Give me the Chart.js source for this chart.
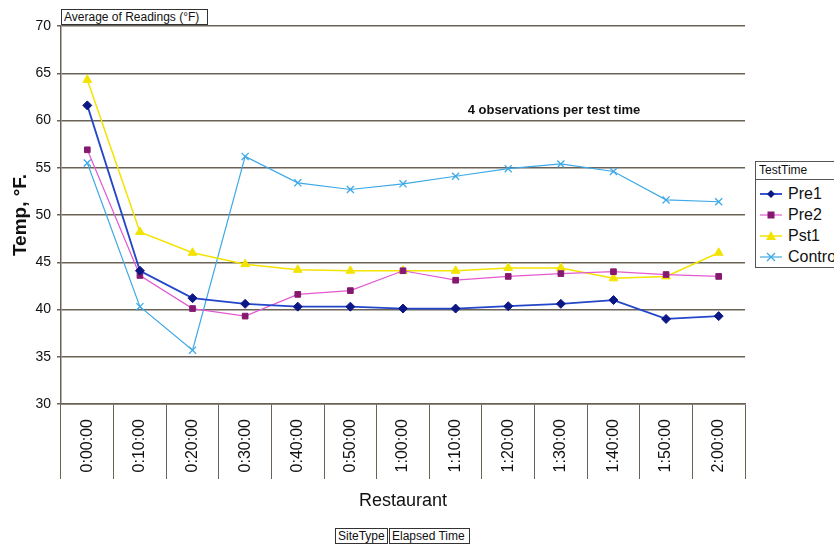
<!DOCTYPE html>
<html>
<head>
<meta charset="utf-8">
<script src="https://cdn.jsdelivr.net/npm/chart.js@4.4.1/dist/chart.umd.min.js"></script>
<style>
  html, body { margin: 0; padding: 0; background: #fff; overflow: hidden; }
  body { font-family: 'Liberation Sans', Arial, sans-serif; color: #111; }
  #wrap { position: relative; width: 834px; height: 546px; }
  .btn { position: absolute; border: 1px solid #333; background: #fff; font-size: 12px; line-height: 14px; padding: 0 2px; white-space: nowrap; }
  #note { position: absolute; font-weight: bold; font-size: 13px; white-space: nowrap; transform: translate(-50%, -50%); }
  #legend { position: absolute; left: 755px; top: 161px; width: 100px; height: 105px; border: 1px solid #555; background: #fff; }
  #legend .head { font-size: 12px; height: 17px; line-height: 17px; padding-left: 3px; border-bottom: 1px solid #555; margin-bottom: 3px; }
  #legend .row { height: 21px; display: flex; align-items: center; font-size: 16px; }
  #legend svg { margin: 0 6px 0 4px; }
</style>
</head>
<body>
<div id="wrap">
  <canvas id="chart" width="834" height="546"></canvas>
  <div class="btn" style="left:61px;top:9px;width:141px;">Average of Readings (°F)</div>
  <div id="note" style="left:554px;top:109px;">4 observations per test time</div>
  <div class="btn" style="left:335px;top:528px;">SiteType</div>
  <div class="btn" style="left:389px;top:528px;width:75px;">Elapsed Time</div>
  <div id="legend"><div class="head">TestTime</div></div>
</div>
<script>
// --- Data ---
const times = ['0:00:00', '0:10:00', '0:20:00', '0:30:00', '0:40:00', '0:50:00', '1:00:00',
               '1:10:00', '1:20:00', '1:30:00', '1:40:00', '1:50:00', '2:00:00'];
const pre1 = [61.6, 44.1, 41.2, 40.6, 40.3, 40.3, 40.1, 40.1, 40.35, 40.6, 41.0, 39.0, 39.3];
const pre2 = [56.9, 43.6, 40.1, 39.3, 41.6, 42.0, 44.1, 43.1, 43.5, 43.8, 44.0, 43.7, 43.5];
const pst1 = [64.3, 48.2, 46.0, 44.8, 44.2, 44.1, 44.1, 44.1, 44.4, 44.4, 43.3, 43.5, 46.0];
const control = [55.5, 40.3, 35.7, 56.2, 53.4, 52.7, 53.3, 54.1, 54.9, 55.4, 54.6, 51.6, 51.4];
const yTicks = [30, 35, 40, 45, 50, 55, 60, 65, 70];

const font = "'Liberation Sans', Arial, sans-serif";
const gridColor = '#6a6256';

const series = [
  { label: 'Pre1', data: pre1, line: '#2446c8', mark: '#0b1784', style: 'rectRot', r: 4.5, w: 1.8 },
  { label: 'Pre2', data: pre2, line: '#e35ad0', mark: '#85196f', style: 'rect', r: 4, w: 1.2 },
  { label: 'Pst1', data: pst1, line: '#f3e300', mark: '#f3e300', style: 'triangle', r: 5, w: 1.5 },
  { label: 'Control', data: control, line: '#3ea9e6', mark: '#3ea9e6', style: 'crossRot', r: 5, w: 1.2 }
];

// --- Legend (html) ---
const legend = document.getElementById('legend');
series.forEach(s => {
  let icon = '';
  if (s.style === 'rectRot') icon = `<polygon points="11,1 15,5 11,9 7,5" fill="${s.mark}"/>`;
  if (s.style === 'rect') icon = `<rect x="7.5" y="1.5" width="7" height="7" fill="${s.mark}"/>`;
  if (s.style === 'triangle') icon = `<polygon points="11,0 16,9 6,9" fill="${s.mark}"/>`;
  if (s.style === 'crossRot') icon = `<path d="M7,1 L15,9 M15,1 L7,9" stroke="${s.mark}" stroke-width="1.3"/>`;
  const row = document.createElement('div');
  row.className = 'row';
  row.innerHTML = `<svg width="22" height="10"><line x1="0" y1="5" x2="22" y2="5" stroke="${s.line}" stroke-width="${s.w}"/>${icon}</svg>${s.label}`;
  legend.appendChild(row);
});

// --- Chart ---
const ctx = document.getElementById('chart').getContext('2d');

new Chart(ctx, {
  type: 'line',
  data: {
    labels: times,
    datasets: series.map(s => ({
      label: s.label,
      data: s.data,
      borderColor: s.line,
      borderWidth: s.w,
      backgroundColor: s.mark,
      pointBackgroundColor: s.mark,
      pointBorderColor: s.mark,
      pointBorderWidth: s.style === 'crossRot' ? 1.3 : 1,
      pointStyle: s.style,
      pointRadius: s.r,
      tension: 0,
      fill: false
    }))
  },
  options: {
    responsive: false,
    animation: false,
    layout: { padding: { left: 0, top: 26, right: 89, bottom: 0 } },
    plugins: {
      legend: { display: false },
      tooltip: { enabled: false }
    },
    scales: {
      x: {
        type: 'category',
        offset: true,
        grid: {
          offset: true,
          drawOnChartArea: false,
          drawTicks: true,
          tickLength: 75,
          color: gridColor,
          lineWidth: 1
        },
        border: { display: true, color: gridColor, width: 1.5 },
        ticks: {
          autoSkip: false,
          minRotation: 90,
          maxRotation: 90,
          padding: -60,
          color: '#111',
          font: { family: font, size: 16 }
        },
        title: {
          display: true,
          text: 'Restaurant',
          color: '#111',
          font: { family: font, size: 18 },
          padding: { top: 0, bottom: 34 }
        },
        afterFit: scale => { scale.height = 142; }
      },
      y: {
        min: 30,
        max: 70,
        afterBuildTicks: scale => { scale.ticks = yTicks.map(v => ({ value: v })); },
        grid: {
          color: gridColor,
          lineWidth: 1.5,
          drawTicks: true,
          tickLength: 4
        },
        border: { display: true, color: gridColor, width: 1.5 },
        ticks: {
          padding: 6,
          color: '#111',
          font: { family: font, size: 14 }
        },
        title: {
          display: true,
          text: 'Temp, °F.',
          color: '#111',
          font: { family: font, size: 19, weight: 'bold' },
          padding: { top: 9, bottom: 0 }
        },
        afterFit: scale => { scale.width = 61; }
      }
    }
  }
});
</script>
</body>
</html>
